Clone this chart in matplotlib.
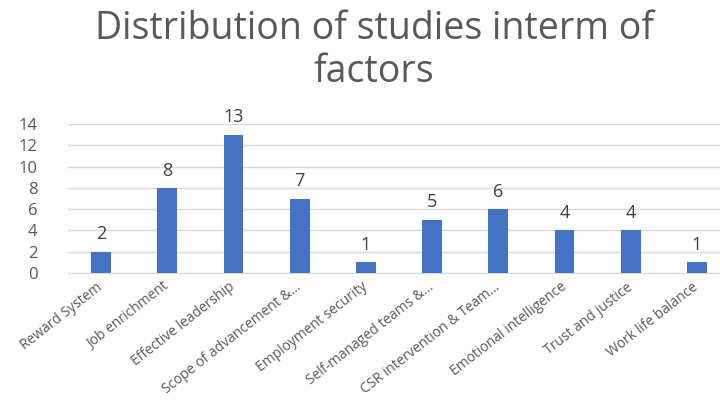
import matplotlib.pyplot as plt
import numpy as np

categories = ['Reward System', 'Job enrichment', 'Effective leadership',
              'Scope of advancement &\u2026', 'Employment security',
              'Self-managed teams &\u2026', 'CSR intervention & Team\u2026',
              'Emotional intelligence', 'Trust and justice', 'Work life balance']
counts = [2, 8, 13, 7, 1, 5, 6, 4, 4, 1]
yticks = [0, 2, 4, 6, 8, 10, 12, 14]

plt.rcParams['font.family'] = ['Open Sans', 'DejaVu Sans']

fig = plt.figure(figsize=(7.2, 4.03), dpi=100)
# plot area is cut off on the right in the reference
ax = fig.add_axes([68 / 720, 1 - 273 / 403, 662 / 720, 149 / 403])

x = np.arange(len(categories))
bars = ax.bar(x, counts, width=0.3, color='#4472C4', zorder=3)

for xi, v in zip(x, counts):
    ax.annotate(str(v), (xi, v), xytext=(0, 6), textcoords='offset points',
                ha='center', va='bottom', fontsize=13, color='#404040')

ax.set_xlim(-0.5, len(categories) - 0.5)
ax.set_ylim(0, 14)
ax.set_yticks(yticks)
ax.set_yticklabels([str(t) for t in yticks], fontsize=12, color='#595959')
ax.tick_params(axis='y', length=0, pad=22)
ax.grid(axis='y', color='#D9D9D9', linewidth=1, zorder=0)

ax.set_xticks(x)
ax.set_xticklabels(categories, rotation=38, ha='right', va='center',
                   rotation_mode='anchor', fontsize=10, color='#595959')
ax.tick_params(axis='x', length=0, pad=9)

for s in ['top', 'right', 'left']:
    ax.spines[s].set_visible(False)
ax.spines['bottom'].set_color('#D9D9D9')

fig.text(374 / 720, 1 - 29 / 403, 'Distribution of studies interm of', ha='center',
         va='center', fontsize=27, color='#595959')
fig.text(374 / 720, 1 - 72 / 403, 'factors', ha='center', va='center',
         fontsize=27, color='#595959')

plt.savefig('out.png', dpi=100)
